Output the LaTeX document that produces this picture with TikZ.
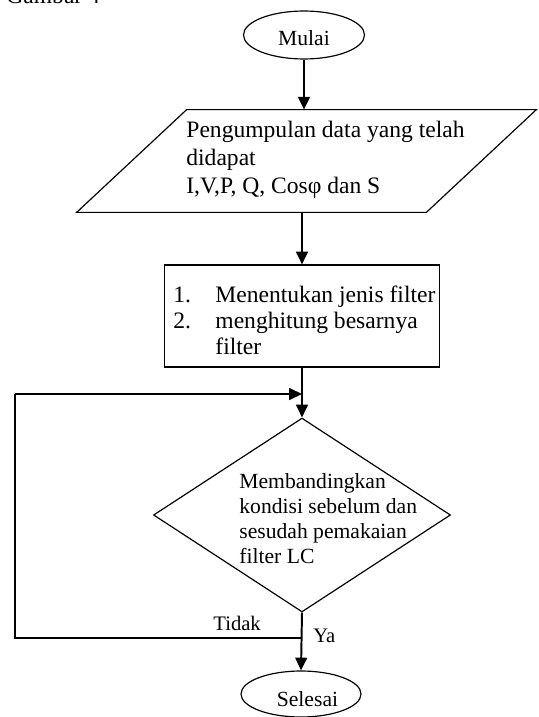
\documentclass[tikz,border=0pt]{standalone}
\usepackage{fontspec}
\setmainfont{Liberation Serif}
\usetikzlibrary{shapes.geometric,arrows.meta}
\begin{document}
\begin{tikzpicture}[x=0.509pt,y=-0.509pt,
  shapeline/.style={draw,line width=0.6pt},
  arr/.style={line width=1pt,-{Triangle[length=6.5pt,width=6pt]}},
  loopline/.style={line width=0.6pt},
  txt/.style={inner sep=0pt,anchor=base west,align=left},
]
\useasboundingbox (0,0) rectangle (538,717);
% caption (cut off at the top, as in the reference)
\node[txt,font=\fontsize{12pt}{13.8pt}\selectfont] (gambar) at (6,3.5) {Gambar 4};
% start
\node[ellipse,shapeline,minimum width=61.6pt,minimum height=24.4pt,inner sep=0pt,
  text height=10.6pt,text depth=0pt,font=\fontsize{11pt}{12.7pt}\selectfont] (mulai) at (304,35) {Mulai};
% input parallelogram
\node[minimum width=177.6pt,minimum height=51.9pt,inner sep=0pt] (para) at (306.5,161) {};
\draw[shapeline] ([xshift=28pt]para.north west) -- ([xshift=28pt]para.north east)
  -- ([xshift=-28pt]para.south east) -- ([xshift=-28pt]para.south west) -- cycle;
% (base anchor of a multi-line node = baseline of its last line)
\node[txt,font=\fontsize{12pt}{14pt}\selectfont] (paratext) at (186,193)
  {Pengumpulan data yang telah\\didapat\\I,V,P, Q, Cosφ dan S};
% process
\node[rectangle,shapeline,minimum width=140pt,minimum height=51.9pt,inner sep=0pt] (proc) at (302,316) {};
\node[txt,font=\fontsize{12pt}{13.2pt}\selectfont] (proctext) at (173,354)
  {\makebox[21.4pt][l]{1.}Menentukan jenis filter\\\makebox[21.4pt][l]{2.}menghitung besarnya\\\hspace*{21.4pt}filter};
% decision
\node[diamond,shapeline,minimum width=151.2pt,minimum height=98.7pt,inner sep=0pt] (dec) at (302,515) {};
\node[txt,font=\fontsize{11pt}{12.7pt}\selectfont] (dectext) at (239,563)
  {Membandingkan\\kondisi sebelum dan\\sesudah pemakaian\\filter LC};
% end
\node[ellipse,shapeline,minimum width=61.1pt,minimum height=23.4pt,inner sep=0pt,
  text height=13.2pt,text depth=0pt,font=\fontsize{11pt}{12.7pt}\selectfont] (selesai) at (301,694) {\hspace*{6.6pt}Selesai};
% branch labels
\node[txt,font=\fontsize{10.5pt}{12pt}\selectfont] (tidak) at (213,630) {Tidak};
\node[txt,font=\fontsize{10.5pt}{12pt}\selectfont] (ya) at (313,642) {Ya};
% loop coordinates
\coordinate (jn) at (302,638);
\coordinate (lb) at (15,638);
\coordinate (lt) at (15,394);
\coordinate (mid) at (302,394);
% connectors
\draw[arr] (mulai.south) -- (mulai.south |- para.north);
\draw[arr] (proc.north |- para.south) -- (proc.north);
\draw[arr] (proc.south) -- (dec.north);
\draw[loopline] (jn) -- (lb) -- (lt);
\draw[arr] (lt) -- (mid);
\draw[arr] (dec.south) -- (selesai.north);
\end{tikzpicture}
\end{document}
